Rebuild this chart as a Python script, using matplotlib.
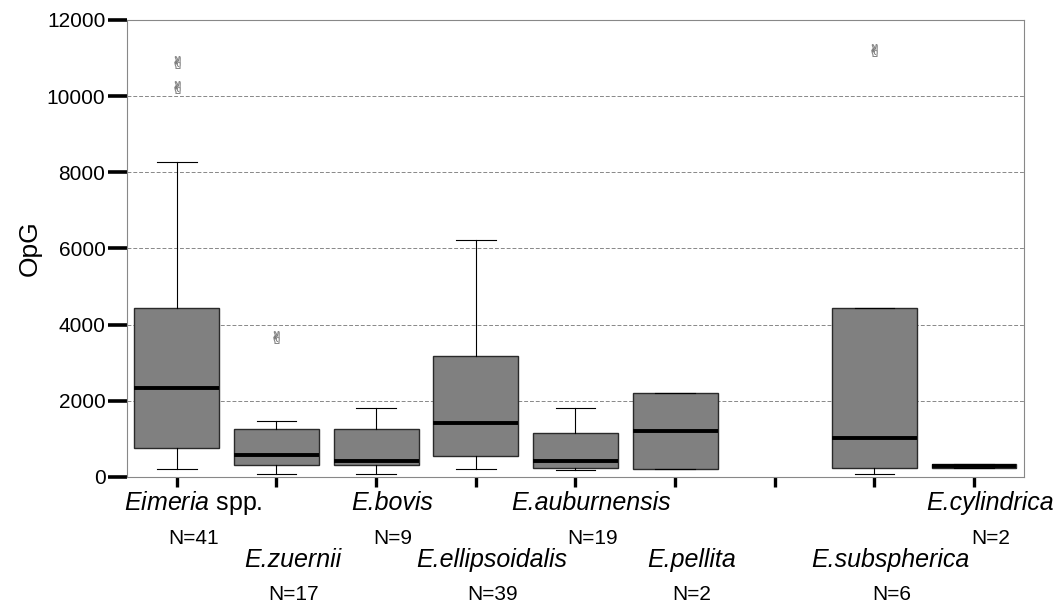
import numpy as np
import matplotlib
matplotlib.use("Agg")
import matplotlib.pyplot as plt

plt.rcParams['font.family'] = ['Liberation Sans', 'DejaVu Sans']
plt.rcParams['mathtext.fontset'] = 'custom'
plt.rcParams['mathtext.rm'] = 'Liberation Sans'
plt.rcParams['mathtext.it'] = 'Liberation Sans:italic'

# categories (position 6 is an empty slot in the original)
species = ['Eimeria', 'E.zuernii', 'E.bovis', 'E.ellipsoidalis', 'E.auburnensis',
           'E.pellita', '', 'E.subspherica', 'E.cylindrica']
suffix = [' spp.', '', '', '', '', '', '', '', '']
n_obs = [41, 17, 9, 39, 19, 2, None, 6, 2]

# box statistics (OpG)
whis_lo = [220, 90, 90, 220, 180, 220, None, 90, 230]
q1 = [760, 310, 310, 560, 230, 220, None, 230, 230]
med = [2340, 580, 430, 1420, 430, 1210, None, 1020, 285]
q3 = [4440, 1260, 1260, 3180, 1160, 2210, None, 4440, 340]
whis_hi = [8270, 1480, 1810, 6210, 1810, 2210, None, 4440, 340]
outliers = [[10250, 10900], [3680], [], [], [], [], None, [11200], []]

stats = []
pos = []
for i in range(len(species)):
    if med[i] is None:
        continue
    stats.append(dict(whislo=whis_lo[i], q1=q1[i], med=med[i], q3=q3[i],
                      whishi=whis_hi[i], fliers=outliers[i]))
    pos.append(i)

fig = plt.figure(figsize=(10.61, 6.04), dpi=100)
ax = fig.add_axes([0.1197, 0.2103, 0.8454, 0.7566])

# the outlier glyph only exists in DejaVu
with plt.rc_context({'mathtext.fontset': 'dejavusans'}):
    ax.bxp(stats, positions=pos, widths=0.85, capwidths=0.4, patch_artist=True,
           boxprops=dict(facecolor='#808080', edgecolor='#2a2a2a', linewidth=1.0),
           medianprops=dict(color='black', linewidth=2.8, solid_capstyle='butt'),
           whiskerprops=dict(color='black', linewidth=0.8),
           capprops=dict(color='black', linewidth=0.8),
           flierprops=dict(marker='$\u270c$', markersize=9, markeredgecolor='#777777',
                           markerfacecolor='#aaaaaa', linestyle='none',
                           markeredgewidth=0.3))

ax.set_xlim(-0.5, 8.5)
ax.set_ylim(0, 12000)
ax.set_yticks(np.arange(0, 12001, 2000))
ax.set_xticks(range(len(species)))
ax.set_xticklabels([])
ax.yaxis.grid(True, linestyle=(0, (4, 2)), color='#888888', linewidth=0.7)
ax.set_axisbelow(True)

for s in ax.spines.values():
    s.set_color('#888888')
    s.set_linewidth(0.8)

ax.tick_params(axis='y', length=14, width=2.6, color='black', labelsize=15, pad=1.5)
ax.tick_params(axis='x', length=7, width=2.4, color='black', pad=0)
ax.set_ylabel('OpG', fontsize=19, labelpad=4)

for i, name in enumerate(species):
    if not name:
        continue
    row = i % 2
    y_name = -26 if row == 0 else -83
    y_n = -62 if row == 0 else -118
    if suffix[i]:
        label = r'$\mathit{%s}$%s' % (name, suffix[i])
        style = 'normal'
    else:
        label = name
        style = 'italic'
    ax.annotate(label, xy=(i, 0), xycoords=('data', 'axes fraction'),
                xytext=(16, y_name), textcoords='offset pixels', fontstyle=style,
                ha='center', va='center', fontsize=18, annotation_clip=False)
    ax.annotate('N=%d' % n_obs[i], xy=(i, 0), xycoords=('data', 'axes fraction'),
                xytext=(17, y_n), textcoords='offset pixels',
                ha='center', va='center', fontsize=15, annotation_clip=False)

fig.savefig('out.png', dpi=100)
